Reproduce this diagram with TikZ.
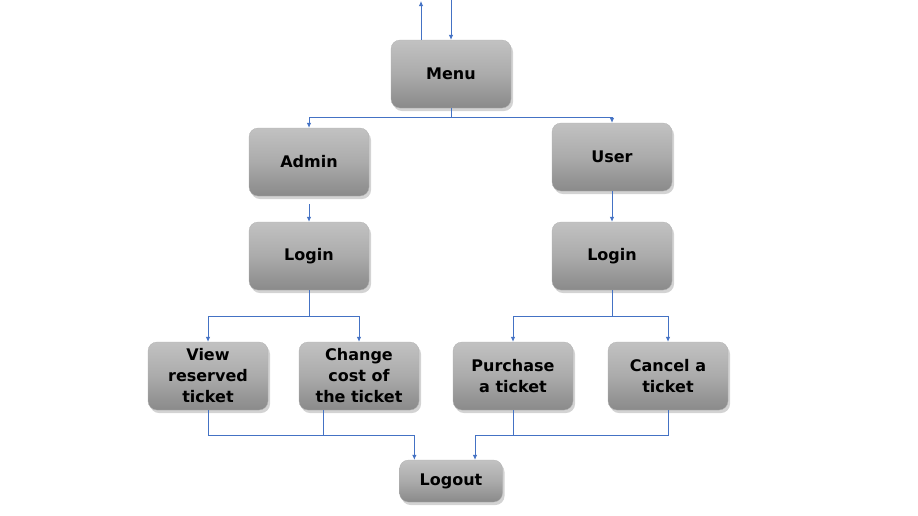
\documentclass[tikz,border=0pt]{standalone}
\usepackage{fontspec}
\setmainfont{DejaVu Sans}
\usepackage{xcolor}
\usepackage{tikz}
\usetikzlibrary{positioning,calc,arrows.meta,shadows}

\definecolor{wireblue}{HTML}{4472C4}
\tikzset{
	box/.style={rounded corners=9pt, minimum width=120pt, minimum height=68pt,
		top color=black!24, bottom color=black!46, middle color=black!33,
		draw=black!30, line width=0.3pt, align=center,
		font=\fontsize{16}{21}\selectfont\bfseries,
		drop shadow={shadow xshift=2pt, shadow yshift=-3pt, opacity=0.35}},
	wire/.style={draw=wireblue, line width=0.9pt},
	arr/.style={wire, -{Latex[length=5pt,width=4.5pt]}}
}

\begin{document}
\begin{tikzpicture}[x=1pt,y=-1pt]
	\useasboundingbox (0,0) rectangle (918,515);
	
	% cac hop
	\node[box] (menu)   at (451,74)  {Menu};
	\node[box] (admin)  at (309,162) {Admin};
	\node[box] (user)   at (612,157) {User};
	\node[box] (loginA) at (309,256) {Login};
	\node[box] (loginU) at (612,256) {Login};
	\node[box] (view)     at (208,376) {View\\reserved\\ticket};
	\node[box] (change)   at (359,376) {Change\\cost of\\the ticket};
	\node[box] (purchase) at (513,376) {Purchase\\a ticket};
	\node[box] (cancel)   at (668,376) {Cancel a\\ticket};
	\node[box, minimum width=103pt, minimum height=42pt] (logout) at (451,481) {Logout};
	
	% dau tren cung (ra/vao Menu)
	\coordinate (outTop) at (421,1);
	\coordinate (inTop)  at (451,0);
	\draw[arr] ([xshift=-30pt]menu.north) -- (outTop);
	\draw[arr] (inTop) -- (menu.north);
	
	% Menu -> Admin / User
	\foreach \t in {admin,user} {
		\draw[arr] (menu.south) -- ++(0,9) -| (\t.north);
	}
	
	% -> Login
	\draw[arr, shorten <=8pt] (admin.south) -- (loginA.north);
	\draw[arr] (user.south) -- (loginU.north);
	
	% Login -> chuc nang
	\foreach \t in {view,change} {
		\draw[arr] (loginA.south) -- ++(0,26) -| (\t.north);
	}
	\foreach \t in {purchase,cancel} {
		\draw[arr] (loginU.south) -- ++(0,26) -| (\t.north);
	}
	
	% -> Logout
	\draw[arr] (view.south) -- ++(0,25) -| ([xshift=15pt]logout.north west);
	\draw[wire] ([xshift=-36pt]change.south) -- ++(0,25);
	\draw[arr] (cancel.south) -- ++(0,25) -| ([xshift=24pt]logout.north);
	\draw[wire] (purchase.south) -- ++(0,25);
\end{tikzpicture}
\end{document}
